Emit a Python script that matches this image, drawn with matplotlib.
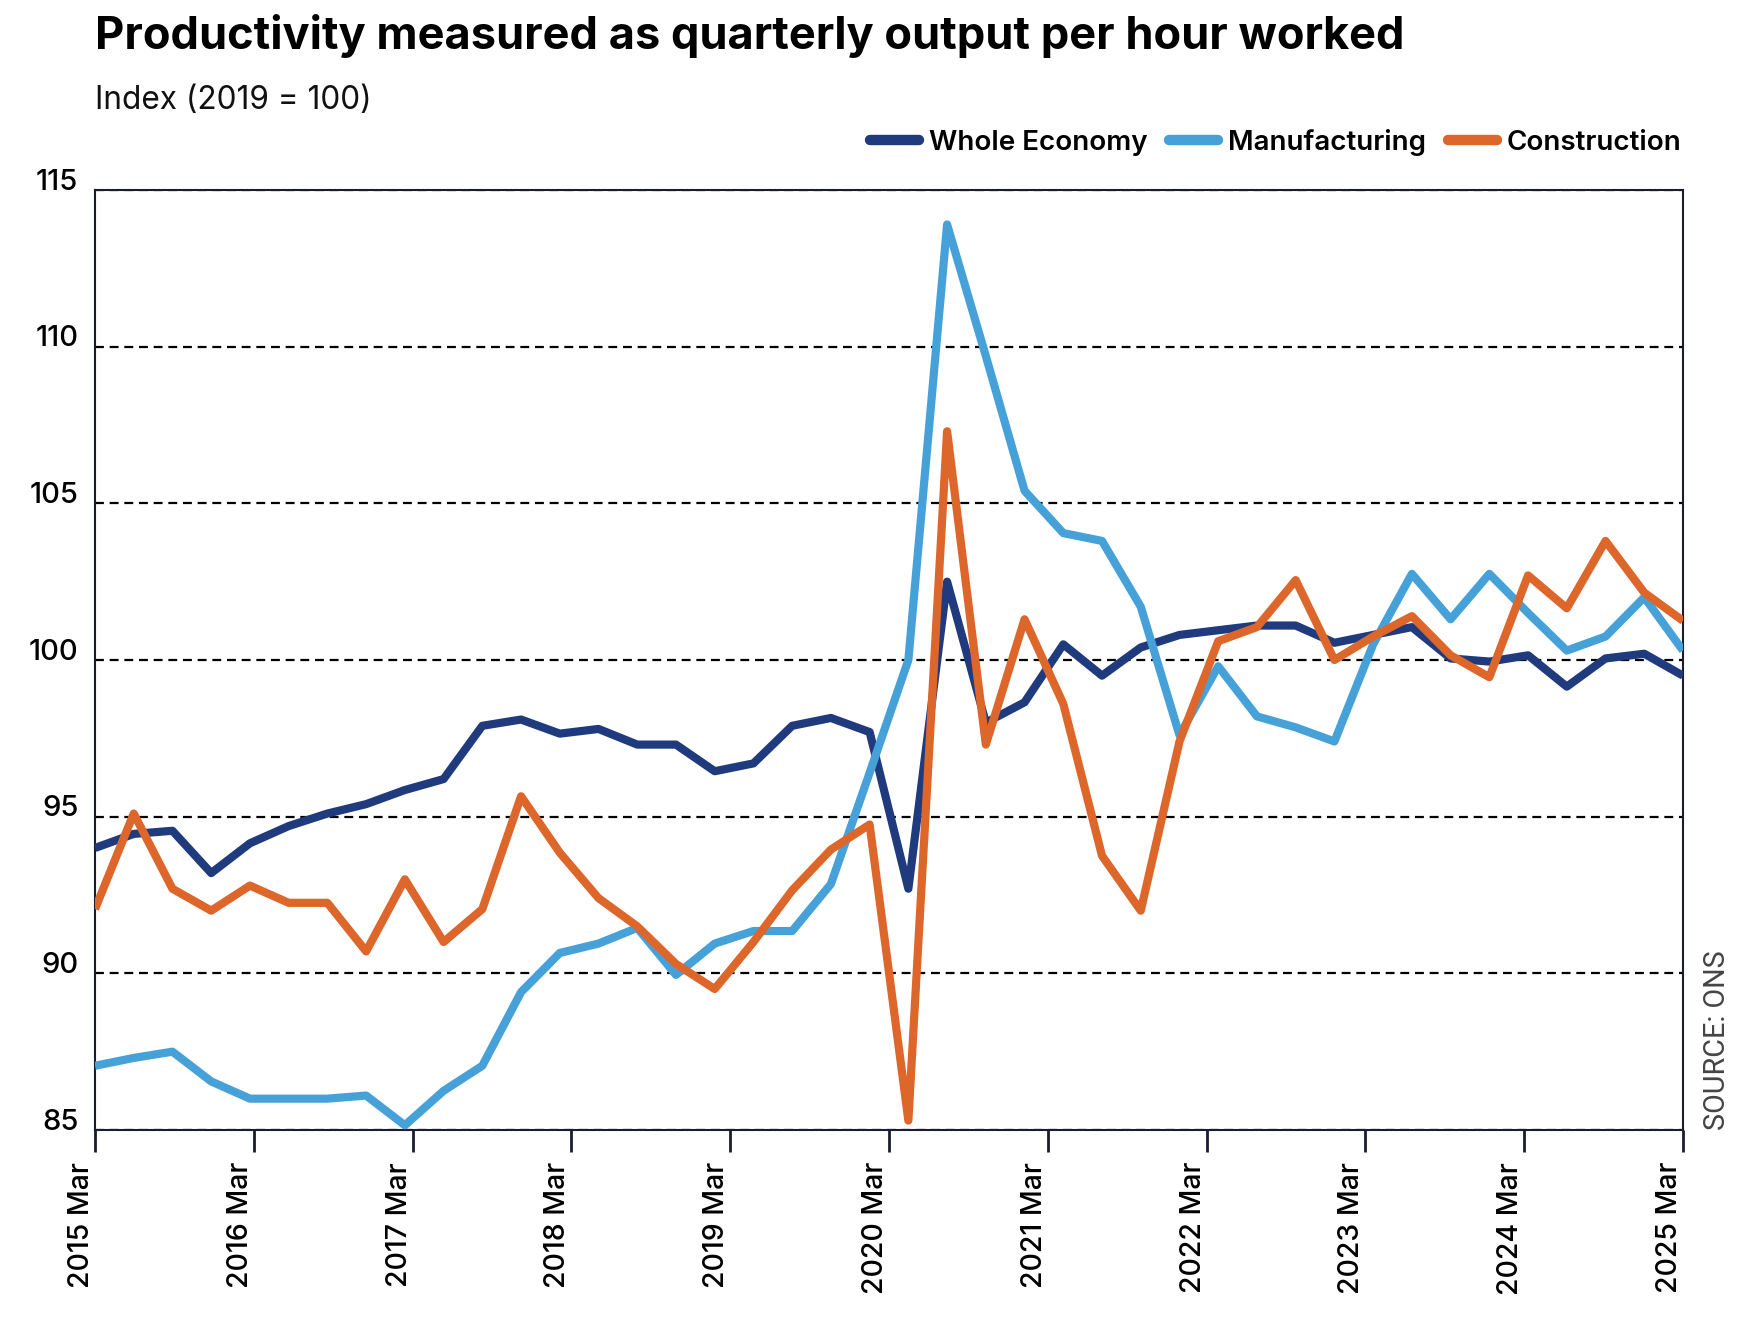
import numpy as np
import matplotlib
matplotlib.use("Agg")
import matplotlib.pyplot as plt
from matplotlib.transforms import ScaledTranslation
from matplotlib.lines import Line2D

# ---------------- data ----------------
quarters = [f"{y} {m}" for y in range(2015, 2026) for m in ["Mar", "Jun", "Sep", "Dec"]][:42]

whole_economy = [94.0, 94.45, 94.55, 93.2, 94.15, 94.7, 95.1, 95.4, 95.85, 96.2,
                 97.9, 98.1, 97.65, 97.8, 97.3, 97.3, 96.45, 96.7, 97.9, 98.15,
                 97.7, 92.7, 102.5, 98.0, 98.65, 100.5, 99.5, 100.4, 100.8, 100.95,
                 101.1, 101.1, 100.55, 100.8, 101.05, 100.05, 99.95, 100.15, 99.15, 100.05,
                 100.2, 99.5]
manufacturing = [87.05, 87.3, 87.5, 86.55, 86.0, 86.0, 86.0, 86.1, 85.15, 86.25,
                 87.05, 89.4, 90.65, 90.95, 91.45, 89.95, 90.95, 91.35, 91.35, 92.85,
                 96.4, 100.0, 113.9, 109.7, 105.4, 104.05, 103.8, 101.7, 97.6, 99.8,
                 98.2, 97.85, 97.4, 100.5, 102.75, 101.3, 102.75, 101.5, 100.3, 100.75,
                 102.0, 100.3]
construction = [92.05, 95.1, 92.7, 92.0, 92.8, 92.25, 92.25, 90.7, 93.0, 91.0,
                92.05, 95.65, 93.85, 92.4, 91.5, 90.3, 89.5, 91.0, 92.65, 93.95,
                94.75, 85.3, 107.3, 97.3, 101.3, 98.6, 93.75, 92.0, 97.4, 100.6,
                101.05, 102.55, 100.0, 100.75, 101.4, 100.15, 99.45, 102.7, 101.65, 103.8,
                102.15, 101.25]

series_names = ["Whole Economy", "Manufacturing", "Construction"]
series_colors = ["#1f3b7e", "#46a1d9", "#dd662b"]

tick_labels = [f"{y} Mar" for y in range(2015, 2026)]
y_ticks = [85, 90, 95, 100, 105, 110, 115]

title = "Productivity measured as quarterly output per hour worked"
subtitle = "Index (2019 = 100)"
source = "SOURCE: ONS"

# ---------------- figure ----------------
W, H = 1754, 1318
fig = plt.figure(figsize=(W / 100, H / 100), dpi=100)
ax = fig.add_axes([95 / W, 1 - 1130 / H, (1683 - 95) / W, (1130 - 190) / H])

x = np.arange(len(quarters))
for vals, name, col in zip([whole_economy, manufacturing, construction], series_names, series_colors):
    ax.plot(x, vals, color=col, lw=5.9, label=name, solid_joinstyle="round", solid_capstyle="butt", zorder=3)

ax.set_xlim(0, len(quarters) - 1)
ax.set_ylim(85, 115)
ax.set_xticks(np.linspace(0, len(quarters) - 1, len(tick_labels)))
ax.set_xticklabels(tick_labels, rotation=90, ha="right", va="top",
                   fontsize=20.5, weight="medium", family=["Inter", "DejaVu Sans"])
ax.set_yticks(y_ticks)
ax.set_yticklabels([str(v) for v in y_ticks], fontsize=21, weight="medium",
                   family=["Inter", "DejaVu Sans"])
ax.tick_params(axis="x", length=16, width=2, color="#1c1c30", pad=7)
ax.tick_params(axis="y", length=0, pad=12)
for lab in ax.get_yticklabels():
    lab.set_transform(lab.get_transform() + ScaledTranslation(0, 0.11, fig.dpi_scale_trans))

ax.yaxis.grid(True, color="black", lw=1.6, ls=(0, (4, 2.6)))
ax.set_axisbelow(True)
for sp in ax.spines.values():
    sp.set_color("#1c1c30")
    sp.set_linewidth(1.5)

# legend
handles = [Line2D([], [], color=c, lw=7.5, solid_capstyle="round") for c in series_colors]
leg = ax.legend(handles, series_names, loc="center right", bbox_to_anchor=(1681 / W, 1 - 142 / H),
                bbox_transform=fig.transFigure, ncol=3, frameon=False,
                prop={"family": ["Inter", "DejaVu Sans"], "weight": "semibold", "size": 20},
                handlelength=1.75, handletextpad=0.35, columnspacing=0.8,
                borderpad=0, borderaxespad=0)

# titles
t = fig.text(95 / W, 1 - 49 / H, title, fontsize=28, weight="bold",
             family=["Inter", "DejaVu Sans"], ha="left", va="baseline", color="black")
s = fig.text(95 / W, 1 - 109 / H, subtitle, fontsize=20, weight="normal",
             family=["Inter", "DejaVu Sans"], ha="left", va="baseline", color="#111111")
src = fig.text(1717 / W, 1 - 1130 / H, source, fontsize=20, rotation=90,
               family=["Liberation Sans Narrow", "Roboto", "DejaVu Sans"],
               ha="center", va="bottom", color="#444444")

# fit widths of header texts to reference
fig.canvas.draw()
r = fig.canvas.get_renderer()
for artist, target in [(t, 1307), (s, 277), (src, 180)]:
    bb = artist.get_window_extent(r)
    w = bb.width if artist is not src else bb.height
    artist.set_fontsize(artist.get_fontsize() * target / w)

fig.savefig("out.png", dpi=100, facecolor="white")
